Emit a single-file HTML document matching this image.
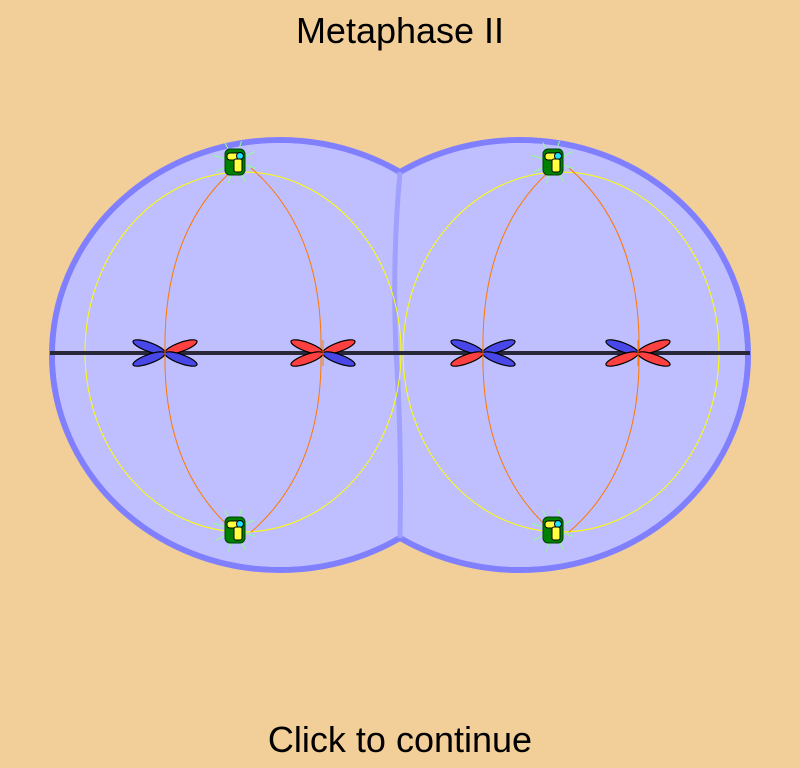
<!DOCTYPE html>
<html><head><meta charset="utf-8"><style>
html,body{margin:0;padding:0;background:#F2CE98;}
svg{display:block}
text{font-family:"Liberation Sans",sans-serif;}
</style></head><body>
<svg width="800" height="768" viewBox="0 0 800 768">
<rect width="800" height="768" fill="#F2CE98"/>
<text x="400" y="43" font-size="36" text-anchor="middle" fill="#000">Metaphase II</text>
<g>
<ellipse cx="280" cy="355" rx="228" ry="215" fill="#BFBFFF" stroke="#8080FF" stroke-width="6"/>
<ellipse cx="520" cy="355" rx="228" ry="215" fill="#BFBFFF" stroke="#8080FF" stroke-width="6"/>
<ellipse cx="280" cy="355" rx="225" ry="212" fill="#BFBFFF"/>
<ellipse cx="520" cy="355" rx="225" ry="212" fill="#BFBFFF"/>
<path d="M400,172 Q392,260 396,352 Q402,440 400,538" stroke="#A0A0FF" stroke-width="5" fill="none"/>
</g>
<g id="spindles"></g>
<line x1="50" y1="353" x2="750" y2="353" stroke="#282838" stroke-width="4"/>
<g id="chroms"></g>
<g id="cents"></g>
<text x="400" y="752" font-size="36" text-anchor="middle" fill="#000">Click to continue</text>
</svg>
<script>
const NS="http://www.w3.org/2000/svg";
const cellCenters=[243,561];
const chromX=[165,323,483,638];
const chromColors=[["b","r","b","b"],["r","r","r","b"],["b","b","r","b"],["b","r","r","r"]];
function mk(t,a,p){const e=document.createElementNS(NS,t);for(const k in a)e.setAttribute(k,a[k]);p.appendChild(e);return e;}
const sp=document.getElementById('spindles');
cellCenters.forEach(cx=>{
 const y=mk('ellipse',{cx:cx,cy:352,rx:158,ry:180,fill:'none',stroke:'#FFFF00','stroke-width':1},sp);
 
 
 const o=mk('path',{d:`M${cx-8},168 Q${cx-80},230 ${cx-78},352 Q${cx-80},470 ${cx-8},532 M${cx+8},168 Q${cx+80},230 ${cx+78},352 Q${cx+80},470 ${cx+8},532`,fill:'none',stroke:'#FF7700','stroke-width':1},sp);
 
 
});
const ch=document.getElementById('chroms');
const arms=[[-1,-1],[1,-1],[-1,1],[1,1]];
chromX.forEach((x,i)=>{
 const g=mk('g',{},ch);
 
 
 arms.forEach((a,j)=>{
  const col=chromColors[i][j]=='r'?'#FF4040':'#4848E8';
  const ang=(a[0]*a[1]>0?20:-20);
  const ex=x+a[0]*16, ey=353+a[1]*6;
  const e=mk('ellipse',{cx:ex,cy:ey,rx:17,ry:4.5,fill:col,stroke:'#000','stroke-width':1.2,transform:`rotate(${ang} ${ex} ${ey})`},g);
  
  
 });
 mk('line',{x1:x,y1:340,x2:x,y2:366,stroke:'#FF7700','stroke-width':1},g);
});
const ce=document.getElementById('cents');
cellCenters.forEach(c=>{[162,530].forEach(cy=>{
 const cx=c-5;
 const g=mk('g',{},ce);
 
 
 for(let k=0;k<8;k++){const t=k*Math.PI/4+0.3;mk('line',{x1:cx-3,y1:cy,x2:cx-3+Math.cos(t)*22,y2:cy+Math.sin(t)*22,stroke:'#90FF90','stroke-width':1},g);}
 mk('rect',{x:cx-13,y:cy-13,width:20,height:26,rx:5,fill:'#008000',stroke:'#004000','stroke-width':1},g);
 mk('rect',{x:cx-11,y:cy-9,width:13,height:7,rx:3,fill:'#FFFF40',stroke:'#000','stroke-width':1},g);
 mk('circle',{cx:cx+2,cy:cy-6,r:3.5,fill:'#20E0FF',stroke:'#000','stroke-width':1},g);
 mk('rect',{x:cx-4,y:cy-3,width:8,height:13,rx:2,fill:'#FFFF40',stroke:'#000','stroke-width':1},g);
});});
</script>
</body></html>
